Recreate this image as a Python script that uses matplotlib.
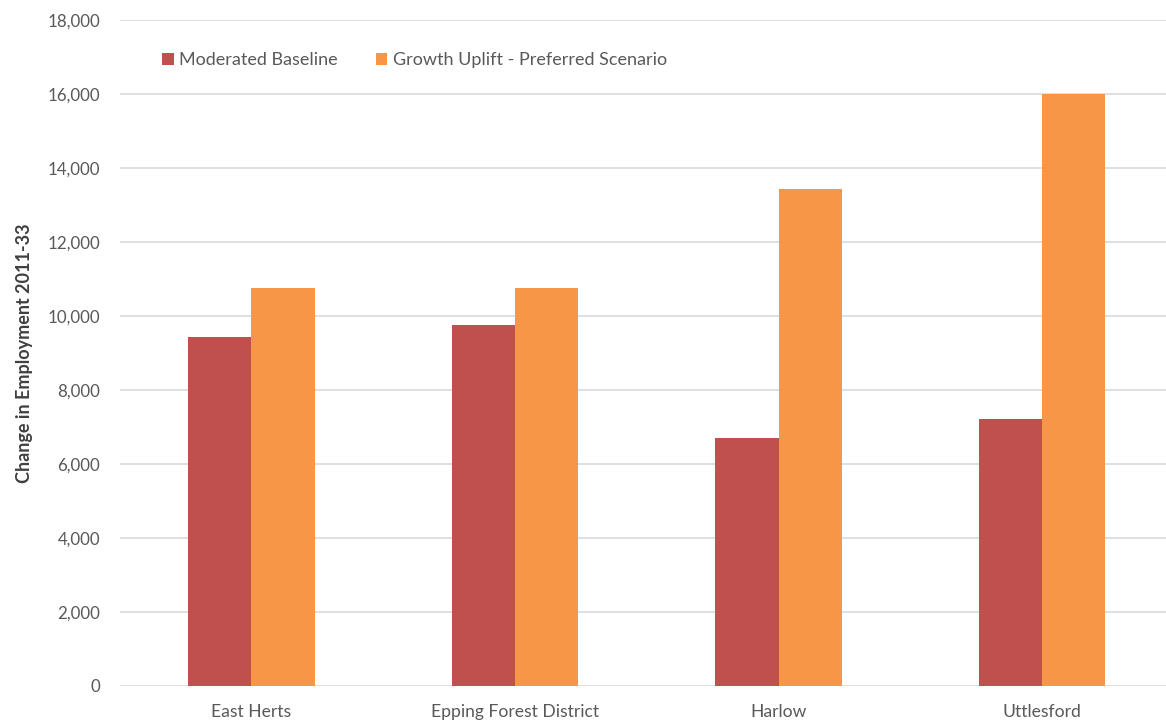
import numpy as np
import matplotlib.pyplot as plt
from matplotlib.ticker import FuncFormatter

districts = ['East Herts', 'Epping Forest District', 'Harlow', 'Uttlesford']
moderated_baseline = [9430, 9760, 6700, 7220]
growth_uplift = [10760, 10760, 13430, 16000]

plt.rcParams['font.family'] = ['Lato', 'DejaVu Sans']

fig = plt.figure(figsize=(11.66, 7.22), dpi=100, facecolor='white')
ax = fig.add_axes([0.1025, 0.0499, 0.8975, 0.9224])

x = np.arange(len(districts))
w = 0.24
ax.bar(x - w / 2, moderated_baseline, w, color='#c0504d', label='Moderated Baseline', zorder=3)
ax.bar(x + w / 2, growth_uplift, w, color='#f79646', label='Growth Uplift - Preferred Scenario', zorder=3)

ax.set_ylim(0, 18000)
ax.set_yticks(np.arange(0, 18001, 2000))
ax.yaxis.set_major_formatter(FuncFormatter(lambda v, p: f'{int(v):,}'))
ax.set_xlim(-0.5, 3.47)
ax.set_xticks(x)
ax.set_xticklabels(districts)

ax.grid(axis='y', color='#d9d9d9', linewidth=1.2, zorder=0)
for s in ax.spines.values():
    s.set_visible(False)
ax.tick_params(axis='both', length=0, colors='#595959')
ax.tick_params(axis='y', pad=14, labelsize=12.2)
ax.tick_params(axis='x', pad=13, labelsize=12.6)

ax.set_ylabel('Change in Employment 2011-33', fontsize=13, fontweight='bold',
              color='#404040', labelpad=10)

ax.legend(loc='upper left', bbox_to_anchor=(0.025, 0.976), ncol=2, frameon=False,
          fontsize=13, labelcolor='#595959', handlelength=0.65, handleheight=0.65,
          handletextpad=0.3, columnspacing=2.1)

fig.savefig('out.png', dpi=100, facecolor='white')
